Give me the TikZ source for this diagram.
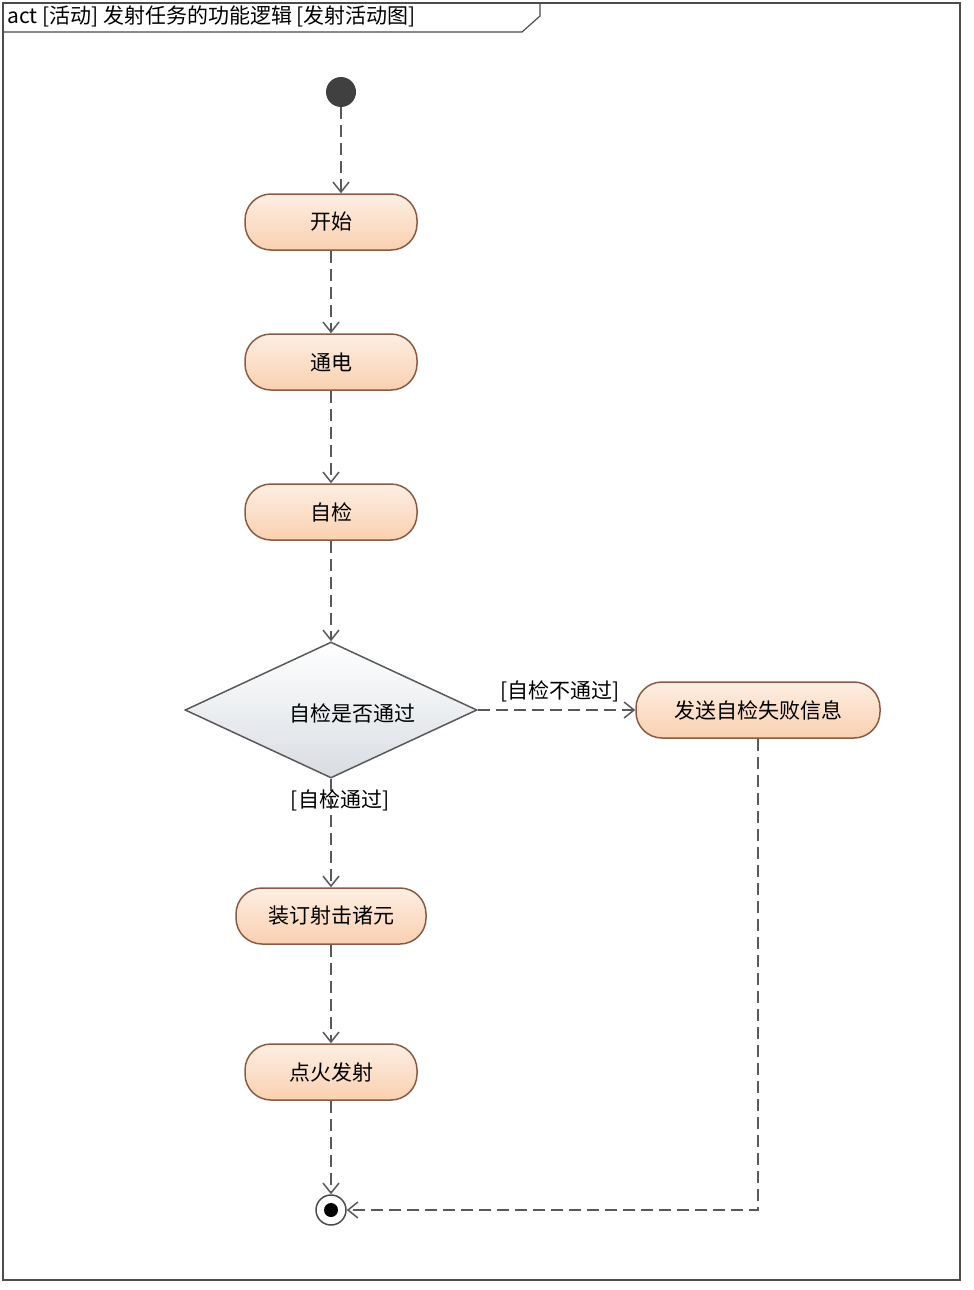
\documentclass[tikz,border=0pt]{standalone}
\usepackage{fontspec}
\setmainfont{Noto Sans CJK SC}
\usepackage{tikz}
\usetikzlibrary{arrows,arrows.meta,shapes,shapes.geometric,positioning}
\usepackage{xcolor}
\definecolor{actfill}{HTML}{FAD0B0}
\definecolor{actdraw}{HTML}{8A5A44}
\definecolor{decfill}{HTML}{D8DDE2}
\begin{document}
\begin{tikzpicture}[x=1pt,y=-1pt,>={Straight Barb[length=10pt,width=16pt,line width=1.5pt]},font=\fontsize{21}{25}\selectfont]
\tikzstyle{act}=[rectangle,rounded corners=26pt,draw=actdraw,line width=1.5pt,top color=actfill!35,bottom color=actfill,minimum height=56pt]
\tikzstyle{flow}=[->,draw=black!65,line width=1.8pt,dash pattern=on 12pt off 6pt]
  \useasboundingbox (0,0) rectangle (974,1290);
  % frame
  \draw[black!70,line width=1.5pt] (3,3) rectangle (960,1280);
  \draw[black!70,line width=1.2pt] (3,32)--(522,32)--(540,16)--(540,3);
  \node[anchor=west,inner sep=2pt] (title) at (5,16) {act [活动] 发射任务的功能逻辑 [发射活动图]};
  % nodes
  \node[circle,fill=black!75,minimum size=30pt,inner sep=0pt](init) at (341,92){};
  \node[act,minimum width=172pt](start) at (331,222){开始};
  \node[act,minimum width=172pt](power) at (331,362){通电};
  \node[act,minimum width=172pt](check) at (331,512){自检};
  \node[diamond,draw=black!65,line width=1.5pt,top color=white,bottom color=decfill,minimum width=292pt,minimum height=136pt,aspect=2.15,inner sep=0pt](dec) at (331,710){};
  \node at (352,713){自检是否通过};
  \node[act,minimum width=244pt](fail) at (758,710){发送自检失败信息};
  \node[act,minimum width=190pt](param) at (331,916){装订射击诸元};
  \node[act,minimum width=172pt](fire) at (331,1072){点火发射};
  \node[circle,draw=black!70,line width=1.5pt,fill=white,minimum size=30pt,inner sep=0pt](final) at (331,1210){};
  \node[circle,fill=black,minimum size=14pt,inner sep=0pt] at (final){};
  \coordinate (corner) at (fail|-final);
  % flows
  \draw[flow](init)--(init|-start.north);
  \draw[flow](start)--(power);
  \draw[flow](power)--(check);
  \draw[flow](check)--(dec);
  \draw[flow](dec.east)--(fail.west) node[pos=0.52,above=4pt]{[自检不通过]};
  \draw[flow](dec)--(param) node[pos=0.2,xshift=9pt]{[自检通过]};
  \draw[flow](param)--(fire);
  \draw[flow](fire)--(final);
  \draw[flow](fail)--(corner)--(final);
\end{tikzpicture}
\end{document}
